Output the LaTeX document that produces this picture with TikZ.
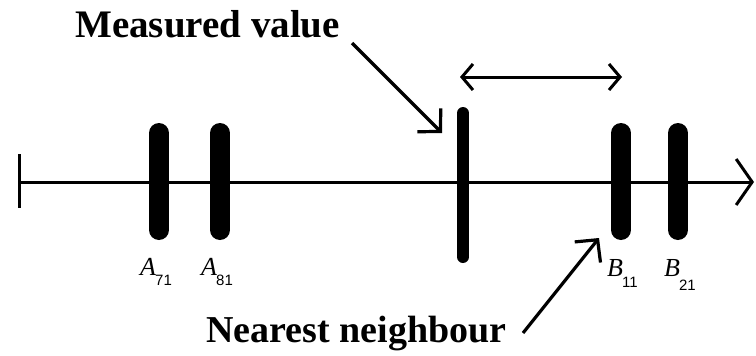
\documentclass[tikz,border=0pt]{standalone}
\usepackage{fontspec}
\setmainfont{Liberation Serif}
\setsansfont{Liberation Sans}
\usetikzlibrary{arrows.meta}
\tikzset{
  axisline/.style={line width=3pt},
  bigbar/.style={line width=20pt, line cap=round},
  thinbar/.style={line width=12pt, line cap=round},
  pointer/.style={line width=3.2pt, -{Straight Barb[length=16pt,width=33pt,line join=miter]}},
  span/.style={line width=3pt, {Straight Barb[length=11pt,width=26pt]}-{Straight Barb[length=11pt,width=26pt]}},
  caption/.style={inner sep=0pt, anchor=base west, font=\fontsize{39}{41}\selectfont\bfseries},
  lab/.style={inner sep=0pt, anchor=base west, font=\fontsize{26}{28}\selectfont}
}
\newcommand{\mysub}[2]{\kern-1pt\raisebox{-#1pt}{\sffamily\fontsize{15}{16}\selectfont #2}}
\begin{document}
\begin{tikzpicture}[x=1pt,y=-1pt]
\useasboundingbox[fill=white] (0,0) rectangle (756,356);
% axis
\coordinate (L) at (19,182);
\coordinate (R) at (754,182);
\coordinate (Lt) at (19,154);
\coordinate (Lb) at (19,208);
\draw[axisline, -{Straight Barb[length=16pt,width=46pt]}] (L) -- (R);
\draw[axisline] (Lt) -- (Lb);
% bars
\coordinate (a7t) at (159,133); \coordinate (a7b) at (159,230);
\coordinate (a8t) at (220,133); \coordinate (a8b) at (220,230);
\coordinate (b1t) at (621,133); \coordinate (b1b) at (621,230);
\coordinate (b2t) at (678,133); \coordinate (b2b) at (678,230);
\coordinate (mt) at (463,113); \coordinate (mb) at (463,257);
\draw[bigbar] (a7t) -- (a7b);
\draw[bigbar] (a8t) -- (a8b);
\draw[bigbar] (b1t) -- (b1b);
\draw[bigbar] (b2t) -- (b2b);
\draw[thinbar] (mt) -- (mb);
% labels
\node[lab] (A71) at (140,275) {\textit{A}\mysub{10}{71}};
\node[lab] (A81) at (201,275) {\textit{A}\mysub{10}{81}};
\node[lab] (B11) at (607,276) {\textit{B}\mysub{11}{11}};
\node[lab] (B21) at (664,276) {\textit{B}\mysub{14}{21}};
% distance arrow
\coordinate (d1) at (460,77);
\coordinate (d2) at (622,77);
\draw[span] (d1) -- (d2);
% captions
\node[caption] (mv) at (75,37) {Measured value};
\node[caption, font=\fontsize{38}{40}\selectfont\bfseries] (nn) at (206,342) {Nearest neighbour};
\coordinate (mvs) at (352,43);
\coordinate (mvt) at (442,133);
\coordinate (nns) at (523,333);
\coordinate (nnt) at (599,238);
\draw[pointer] (mvs) -- (mvt);
\draw[pointer] (nns) -- (nnt);
\end{tikzpicture}
\end{document}
